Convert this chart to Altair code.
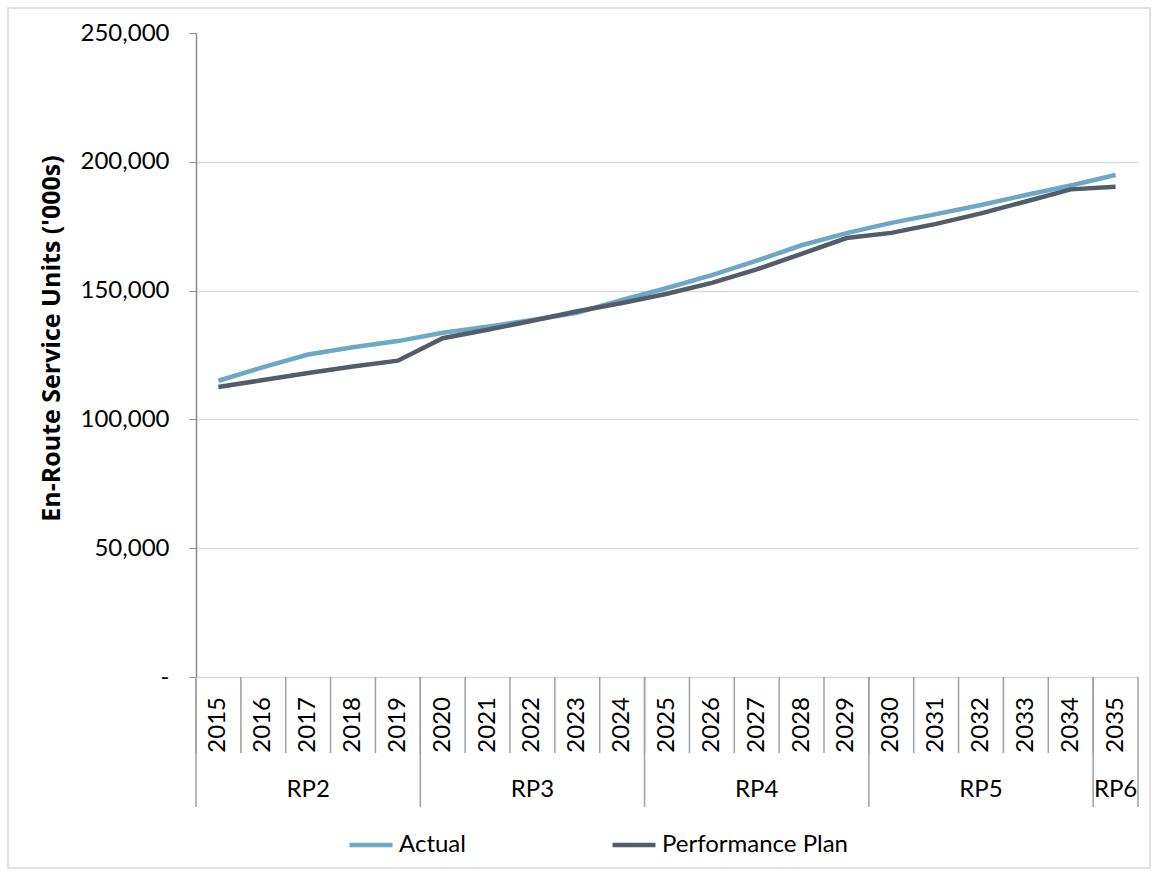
import altair as alt
import pandas as pd

# En-route service units ('000s), actual vs. performance plan
years = list(range(2015, 2036))
actual = [115000, 120300, 125200, 128000, 130400, 133600, 136000, 138600, 141400, 146400,
          151000, 156000, 161600, 167600, 172300, 176300, 179700, 183200, 187100, 190800, 194900]
plan = [112600, 115300, 118000, 120500, 122800, 131500, 134800, 138300, 142000, 145200,
        148800, 153000, 158200, 164300, 170400, 172400, 175900, 180000, 184600, 189300, 190300]

# Reference periods and the years they span
period_labels = ["RP2", "RP3", "RP4", "RP5", "RP6"]
period_start = [2015, 2020, 2025, 2030, 2035]
period_end = [2019, 2024, 2029, 2034, 2035]

y_ticks = [0, 50000, 100000, 150000, 200000, 250000]
series_names = ["Actual", "Performance Plan"]
series_colors = ["#6aa8c6", "#535c69"]

FONT = "Lato"
TITLE_FONT = "Open Sans"
W, H = 942, 644

lines_df = pd.DataFrame(
    {"year": years * 2,
     "value": actual + plan,
     "series": ["Actual"] * len(years) + ["Performance Plan"] * len(years)}
)

x_scale = alt.Scale(type="band", paddingInner=0, paddingOuter=0)

lines = alt.Chart(lines_df).mark_line(strokeWidth=4.5).encode(
    x=alt.X(
        "year:O",
        scale=x_scale,
        axis=alt.Axis(
            title=None, labels=False, ticks=False,
            domainColor="#8c8c8c", domainWidth=1.5, grid=False,
        ),
    ),
    y=alt.Y(
        "value:Q",
        scale=alt.Scale(domain=[0, 250000], nice=False),
        axis=alt.Axis(
            values=y_ticks,
            labelExpr="datum.value == 0 ? '-' : format(datum.value, ',')",
            labelFont=FONT, labelFontSize=24, labelColor="#000000", labelPadding=20,
            tickSize=7, tickColor="#8c8c8c", domainColor="#8c8c8c", domainWidth=1.5,
            grid=True, gridColor="#d9d9d9", gridWidth=1.5,
            gridOpacity={"condition": {"test": "datum.value === 250000", "value": 0}, "value": 1},
            title="En-Route Service Units ('000s)",
            titleFont=TITLE_FONT, titleFontSize=25, titleFontWeight="bold", titleColor="#000000",
            titleAngle=270, titleAlign="center", titleBaseline="middle",
            titleX=-145, titleY=305,
        ),
    ),
    color=alt.Color(
        "series:N",
        scale=alt.Scale(domain=series_names, range=series_colors),
        legend=alt.Legend(
            title=None, orient="none", direction="horizontal",
            legendX=151, legendY=788, padding=0,
            symbolType="stroke", symbolSize=1849, symbolStrokeWidth=4.5,
            labelFont=FONT, labelFontSize=24, labelColor="#000000",
            labelOffset=4, columnPadding=137, labelLimit=0,
        ),
    ),
)

# Rotated year labels under each category
year_text = alt.Chart(pd.DataFrame({"year": years})).mark_text(
    font=FONT, fontSize=24, color="#000000", angle=270, align="right", baseline="middle"
).encode(
    x=alt.X("year:O", scale=x_scale, axis=None),
    y=alt.value(H + 20),
    text="year:O",
)

# Separators between year categories below the axis
year_rules = alt.Chart(pd.DataFrame({"year": years})).mark_rule(
    color="#a0a0a0", strokeWidth=1.5
).encode(
    x=alt.X("year:O", bandPosition=0, scale=x_scale, axis=None),
    y=alt.value(H),
    y2=alt.value(H + 76),
)

# Longer separators at the boundaries of each reference period
bounds_df = pd.DataFrame(
    {"year": period_start + [period_end[-1]],
     "pos": [0] * len(period_start) + [1]}
)
group_left = alt.Chart(bounds_df[bounds_df["pos"] == 0]).mark_rule(
    color="#a0a0a0", strokeWidth=1.5
).encode(
    x=alt.X("year:O", bandPosition=0, scale=x_scale, axis=None),
    y=alt.value(H),
    y2=alt.value(H + 130),
)
group_right = alt.Chart(bounds_df[bounds_df["pos"] == 1]).mark_rule(
    color="#a0a0a0", strokeWidth=1.5
).encode(
    x=alt.X("year:O", bandPosition=1, scale=x_scale, axis=None),
    y=alt.value(H),
    y2=alt.value(H + 130),
)

periods_df = pd.DataFrame(
    {"period": period_labels,
     "year": [(s + e) // 2 for s, e in zip(period_start, period_end)]}
)
period_text = alt.Chart(periods_df).mark_text(
    font=FONT, fontSize=24, color="#000000", baseline="middle", align="center"
).encode(
    x=alt.X("year:O", scale=x_scale, axis=None),
    y=alt.value(H + 113),
    text="period:N",
)

# Light frame around the whole figure
frame = alt.Chart(pd.DataFrame({"f": [0]})).mark_rect(
    fill=None, stroke="#d9d9d9", strokeWidth=1.5
).encode(
    x=alt.value(-188), x2=alt.value(W + 12),
    y=alt.value(-25), y2=alt.value(H + 191),
)

chart = alt.layer(
    frame, year_rules, group_left, group_right, year_text, period_text, lines
).properties(
    width=W,
    height=H,
    padding={"left": 196, "top": 33, "right": 19, "bottom": 198},
    autosize=alt.AutoSizeParams(type="none"),
    background="#ffffff",
).configure_view(stroke=None)

chart.save("out.html", embed_options={"renderer": "svg", "actions": False})
